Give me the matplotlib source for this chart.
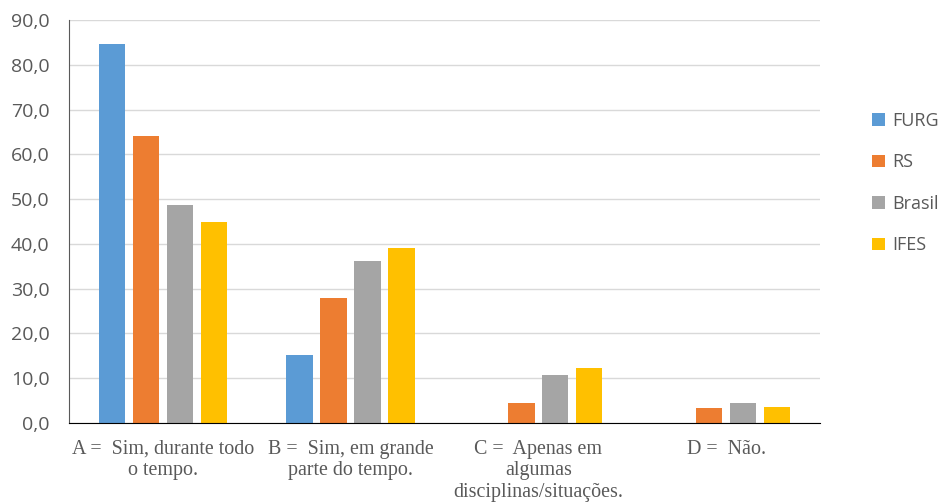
import matplotlib.pyplot as plt
import numpy as np

# Dados
categorias = ["A =  Sim, durante todo\no tempo.",
              "B =  Sim, em grande\nparte do tempo.",
              "C =  Apenas em\nalgumas\ndisciplinas/situações.",
              "D =  Não."]
series = ["FURG", "RS", "Brasil", "IFES"]
furg = [84.6, 15.2, 0.0, 0.0]
rs = [64.1, 27.9, 4.5, 3.3]
brasil = [48.7, 36.2, 10.7, 4.5]
ifes = [44.9, 39.1, 12.3, 3.6]
cores = ["#5b9bd5", "#ed7d31", "#a5a5a5", "#ffc000"]

fig = plt.figure(figsize=(9.41, 5.04), dpi=100)
ax = fig.add_axes([0.0733, 0.1607, 0.7981, 0.7996])

x = np.arange(len(categorias))
largura = 0.14
passo = 0.181
for i, (nome, vals) in enumerate(zip(series, [furg, rs, brasil, ifes])):
    ax.bar(x + (i - 1.5) * passo, vals, largura, color=cores[i], label=nome, zorder=3)

ax.set_xlim(-0.5, 3.5)
ax.set_ylim(0, 90)
ax.set_yticks(np.arange(0, 91, 10))
ax.set_yticklabels([f"{v},0" for v in range(0, 91, 10)], fontsize=14,
                   color="#595959", family="Open Sans")
ax.set_xticks(x)
ax.set_xticklabels(categorias, fontsize=14.4, color="#595959",
                   family="Liberation Serif", linespacing=1.2)
ax.tick_params(axis="y", length=0, pad=14)
ax.tick_params(axis="x", length=0, pad=12)
ax.grid(axis="y", color="#d9d9d9", linewidth=1, zorder=0)

for s in ["top", "right"]:
    ax.spines[s].set_visible(False)
ax.spines["left"].set_color("#595959")
ax.spines["bottom"].set_color("#000000")
ax.spines["bottom"].set_zorder(4)

leg = ax.legend(loc="center left", bbox_to_anchor=(1.06, 0.595), frameon=False,
                borderaxespad=0, handlelength=0.7, handleheight=0.7,
                handletextpad=0.4, labelspacing=1.3,
                prop={"family": "Open Sans", "size": 13})
for t in leg.get_texts():
    t.set_color("#595959")

fig.savefig("out.png", dpi=100)
